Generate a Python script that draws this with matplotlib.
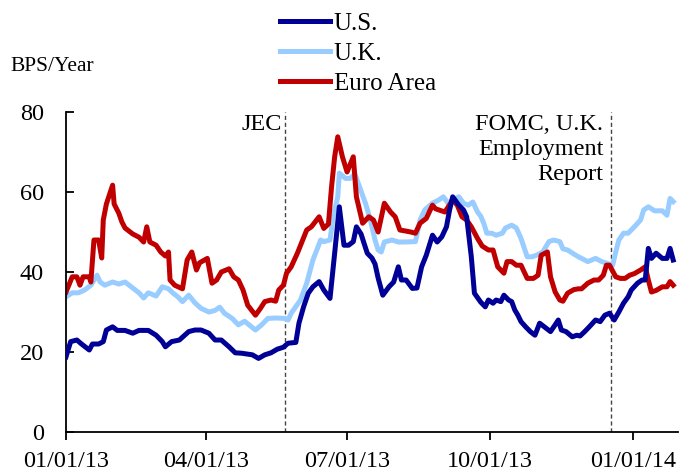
import matplotlib
matplotlib.use("Agg")
import matplotlib.pyplot as plt
import matplotlib.dates as mdates
import pandas as pd

# days counted from 01/01/13, values in bps/year
start = pd.Timestamp("2013-01-01")

us_days = [0, 3, 7, 10, 15, 17, 21, 24, 26, 30, 33, 38, 43, 47, 53, 58, 62, 64, 68, 73,
           79, 83, 87, 92, 96, 100, 105, 109, 113, 120, 124, 128, 132, 136, 140, 143, 148,
           150, 153, 156, 159, 163, 166, 170, 173, 176, 179, 182, 185, 187, 190, 194, 197,
           199, 201, 204, 208, 211, 214, 216, 219, 223, 226, 229, 232, 236, 239, 242, 245,
           247, 249, 253, 256, 258, 261, 263, 267, 270, 272, 275, 277, 280, 282, 285, 287,
           289, 291, 293, 296, 299, 302, 305, 308, 312, 315, 317, 319, 322, 326, 329, 331,
           334, 337, 341, 344, 347, 350, 353, 356, 359, 362, 364, 368, 371, 373, 375, 377,
           380, 384, 387, 389, 391]
us_vals = [18.8, 22.6, 23, 22, 20.5, 22, 22, 22.6, 25.5, 26.3, 25.4, 25.4, 24.7, 25.4, 25.4,
           24.2, 22.6, 21.3, 22.6, 23, 25.1, 25.5, 25.5, 24.7, 23, 23, 21.3, 19.8, 19.7, 19.3,
           18.4, 19.3, 19.8, 20.7, 21.2, 22.2, 22.4, 27.2, 31.3, 34.7, 36.3, 37.6, 35.5, 33.4,
           44.7, 56.3, 46.7, 46.7, 47.6, 51.3, 49.5, 44.7, 43.5, 42, 38.5, 34.2, 36.3, 37.5,
           41.3, 38, 38, 35.9, 36, 41.3, 44.2, 49.2, 47.5, 48.8, 51.3, 55.5, 58.8, 56.7, 55.5,
           53.8, 43.8, 34.7, 32.5, 31.3, 33, 32.2, 33, 32.6, 34.2, 33, 32.6, 30.5, 29.2, 27.6,
           26.3, 25.1, 24.2, 27.2, 26.3, 25.1, 26.8, 28, 25.5, 25.1, 23.8, 24.2, 24, 25.1,
           26.3, 28, 27.6, 29.2, 29.7, 28, 30, 32.2, 33.8, 35.5, 37.2, 38, 38, 45.9, 43.4,
           44.7, 43.4, 43.4, 45.9, 43]

uk_days = [0, 4, 8, 12, 16, 20, 22, 25, 30, 34, 38, 43, 47, 50, 53, 58, 62, 66, 69, 72, 75,
           79, 83, 87, 92, 96, 99, 102, 107, 111, 115, 122, 126, 130, 135, 141, 143, 145, 151,
           155, 159, 164, 166, 170, 172, 175, 176, 180, 183, 186, 189, 193, 196, 199, 201, 203,
           205, 210, 214, 218, 225, 228, 231, 236, 240, 243, 246, 249, 253, 256, 259, 262, 265,
           267, 269, 271, 274, 277, 281, 283, 287, 290, 293, 297, 300, 303, 307, 311, 314, 318,
           320, 323, 327, 330, 332, 336, 341, 345, 349, 352, 354, 356, 359, 362, 366, 370, 372,
           375, 379, 384, 387, 389, 391]
uk_vals = [33.8, 34.8, 34.8, 35.5, 36.7, 39.2, 37.5, 36.7, 37.5, 37, 37.5, 36, 34.8, 33.5,
           34.8, 34, 36.3, 35.8, 34.7, 33.8, 32.6, 34.2, 32.3, 30.9, 30, 30.4, 31.2, 29.7, 28.4,
           26.8, 27.7, 25.5, 26.8, 28.4, 28.5, 28.4, 28, 29.7, 33, 37.2, 43, 48, 47.6, 48, 53.8,
           58.8, 64.7, 63.4, 63.4, 64.5, 61.3, 57, 53, 48, 45.5, 45, 47.5, 48, 47.5, 47.5, 47.6,
           53, 55.5, 57.2, 58, 58.8, 57.2, 58, 58.8, 57.2, 56.7, 57.5, 55, 54, 52.2, 49.7, 49.7,
           49.2, 49.7, 51, 51.7, 51, 48.4, 43.8, 43.8, 44.2, 45, 47.6, 48, 47.6, 45.8, 45.5,
           44.5, 43.8, 43.4, 42.6, 43.4, 42.6, 42.1, 41.7, 45, 48, 49.7, 49.7, 51.3, 53, 55.5,
           56.3, 55.3, 55.3, 54.2, 58.4, 57.6]

eu_days = [0, 4, 7, 9, 11, 15, 16, 18, 21, 23, 24, 26, 30, 31, 34, 36, 38, 43, 47, 50, 52,
           54, 58, 61, 64, 66, 67, 70, 75, 78, 81, 84, 86, 91, 94, 97, 100, 105, 108, 111, 114,
           117, 122, 125, 128, 132, 135, 137, 140, 142, 145, 149, 152, 155, 158, 163, 166, 169,
           171, 173, 175, 178, 181, 185, 187, 189, 191, 195, 198, 201, 205, 209, 212, 215, 218,
           222, 225, 228, 232, 236, 238, 244, 249, 252, 255, 258, 261, 265, 268, 272, 275, 278,
           282, 284, 287, 290, 293, 297, 301, 304, 306, 310, 312, 315, 318, 320, 323, 327, 330,
           332, 336, 340, 343, 346, 348, 350, 354, 357, 360, 363, 366, 370, 373, 375, 377, 380,
           384, 387, 389, 391]
eu_vals = [35, 38.8, 38.8, 36.7, 38.8, 38.8, 37.5, 48, 48, 43.5, 53, 57, 61.7, 57, 54.7, 52.5,
           51, 49.5, 48.7, 47.5, 51.3, 47.5, 46.7, 45, 44, 45, 38, 36.7, 35.8, 43, 45, 40.5,
           42.3, 43.4, 37.2, 38, 40, 40.8, 38.8, 38, 35.5, 31.7, 29.2, 30.8, 32.6, 33, 32.7,
           35.5, 36.7, 39.7, 41.3, 44.7, 47.6, 50.5, 51.3, 53.8, 50.9, 52, 61.3, 68.8, 73.8,
           68.8, 65, 68.8, 58.8, 55.5, 52.2, 53.8, 53, 50, 57.2, 55, 53.8, 50.5, 50.3, 50, 49.7,
           52.2, 53.4, 56.7, 55.8, 55, 58, 56.7, 53.8, 53, 51.3, 48.4, 46.5, 45.5, 45.5, 41.3,
           39.7, 42.6, 42.6, 41.7, 41.7, 38.4, 38.4, 39.2, 44.2, 45, 38.8, 35, 33, 32.7, 34.7,
           35.6, 35.8, 35.8, 37.2, 38, 38, 39.2, 41.7, 41.7, 38.8, 38.4, 38.4, 39.2, 39.6, 40.5,
           41.3, 38, 35, 35.4, 36.3, 36.3, 37.6, 36.7]

events = ["2013-05-22", "2013-12-18"]
event_labels = ["JEC", "FOMC, U.K.\nEmployment\nReport"]
quarter_ticks = ["2013-01-01", "2013-04-01", "2013-07-01", "2013-10-01", "2014-01-01"]


def to_dates(days):
    return start + pd.to_timedelta(days, unit="D")


plt.rcParams["font.family"] = ["Liberation Serif", "DejaVu Serif"]

fig = plt.figure(figsize=(6.84, 4.76), dpi=100)
ax = fig.add_axes([0.0965, 0.0924, 0.8945, 0.6723])

ax.plot(to_dates(us_days), us_vals, color="#000096", lw=3.6, label="U.S.", zorder=3)
ax.plot(to_dates(uk_days), uk_vals, color="#99CCFF", lw=3.6, label="U.K.", zorder=2)
ax.plot(to_dates(eu_days), eu_vals, color="#C00000", lw=3.6, label="Euro Area", zorder=2.5)

for d in events:
    ax.axvline(pd.Timestamp(d), color="#444444", lw=1, ls=(0, (3, 2)), zorder=1)

ax.text(pd.Timestamp(events[0]) - pd.Timedelta(days=2), 79.5, event_labels[0],
        ha="right", va="top", fontsize=17.5, linespacing=1.25)
ax.text(pd.Timestamp(events[1]) - pd.Timedelta(days=5), 79.5, event_labels[1],
        ha="right", va="top", fontsize=17.5, linespacing=1.25)

ax.set_xlim(pd.Timestamp("2013-01-01"), pd.Timestamp("2014-01-30"))
ax.set_ylim(0, 80)
ax.set_yticks([0, 20, 40, 60, 80])
ax.set_xticks(pd.to_datetime(quarter_ticks))
ax.xaxis.set_major_formatter(mdates.DateFormatter("%m/%d/%y"))

ax.spines["top"].set_visible(False)
ax.spines["right"].set_visible(False)
ax.spines["left"].set_linewidth(1.3)
ax.spines["bottom"].set_linewidth(1.3)
ax.tick_params(axis="y", direction="in", length=6, width=1.3, pad=16, labelsize=17.5)
ax.tick_params(axis="x", direction="out", length=6, width=1.3, pad=8, labelsize=17.5)

fig.text(0.015, 0.86, "BPS/Year", fontsize=15.5, ha="left", va="center")
fig.legend(loc="upper left", bbox_to_anchor=(0.395, 0.995), frameon=False, fontsize=18,
           handlelength=2.0, handletextpad=0.15, labelspacing=0.3, borderaxespad=0)

fig.savefig("out.png", dpi=100)
